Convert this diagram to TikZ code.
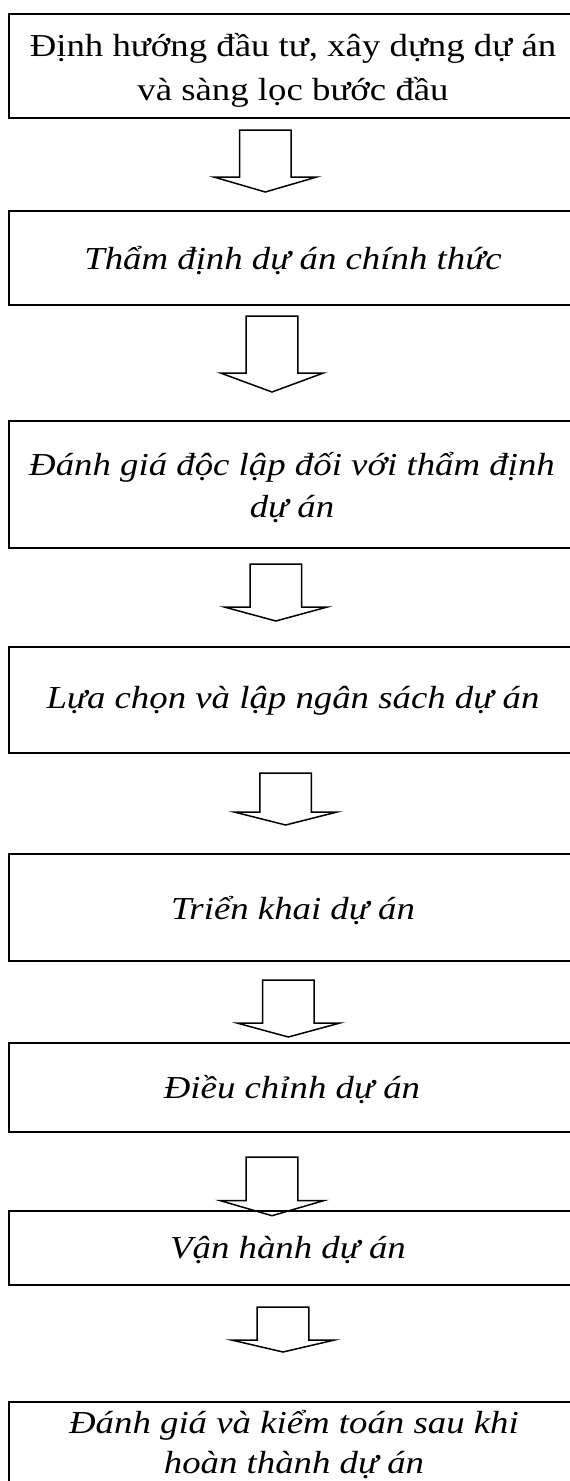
\documentclass[tikz,border=0pt]{standalone}
\usepackage{fontspec}
\setmainfont{Liberation Serif}[FakeStretch=1.15]
\begin{document}
\begin{tikzpicture}[x=1pt,y=-1pt,
  stage/.style={draw=black, line width=2.2pt, fill=none},
  stagetext/.style={anchor=base, align=center, inner sep=0pt,
    font=\fontsize{32}{44}\selectfont},
  stagetextit/.style={stagetext, font=\fontsize{32}{42}\selectfont\itshape},
  blockarrow/.style={draw=black, line width=1.5pt, line join=miter, fill=none}]
\useasboundingbox (0,0) rectangle (570,1481);
\clip (0,0) rectangle (570,1481);

% stage boxes (the right side runs just past the page edge)
\node[stage, rectangle, minimum width=570pt, minimum height=104pt, anchor=north west] (s1) at (8,13) {};
\node[stage, rectangle, minimum width=570pt, minimum height=94pt,  anchor=north west] (s2) at (8,210) {};
\node[stage, rectangle, minimum width=570pt, minimum height=127pt, anchor=north west] (s3) at (8,420) {};
\node[stage, rectangle, minimum width=570pt, minimum height=106pt, anchor=north west] (s4) at (8,646) {};
\node[stage, rectangle, minimum width=570pt, minimum height=107pt, anchor=north west] (s5) at (8,853) {};
\node[stage, rectangle, minimum width=570pt, minimum height=89pt,  anchor=north west] (s6) at (8,1042) {};
\node[stage, rectangle, minimum width=570pt, minimum height=74pt,  anchor=north west] (s7) at (8,1210) {};
\node[stage, rectangle, minimum width=570pt, minimum height=110pt, anchor=north west] (s8) at (8,1401) {};

% stage labels (a two-line label is placed by the baseline of its last line)
\node[stagetext]   (t1) at (293,100)  {Định hướng đầu tư, xây dựng dự án\\và sàng lọc bước đầu};
\node[stagetextit] (t2) at (293,269)  {Thẩm định dự án chính thức};
\node[stagetextit] (t3) at (292,517)  {Đánh giá độc lập đối với thẩm định\\dự án};
\node[stagetextit] (t4) at (293,708)  {Lựa chọn và lập ngân sách dự án};
\node[stagetextit] (t5) at (293,919)  {Triển khai dự án};
\node[stagetextit] (t6) at (292,1098) {Điều chỉnh dự án};
\node[stagetextit] (t7) at (288,1258) {Vận hành dự án};
\node[stagetextit, font=\fontsize{32}{40}\selectfont\itshape] (t8) at (294,1473) {Đánh giá và kiểm toán sau khi\\hoàn thành dự án};

% hollow block arrows between stages: centre x, top, neck, tip
\newcommand\flowarrow[4]{%
  \draw[blockarrow] (#1-25.8,#2) -- (#1+25.8,#2) -- (#1+25.8,#3) -- (#1+51.5,#3)
    -- (#1,#4) -- (#1-51.5,#3) -- (#1-25.8,#3) -- cycle;}
\flowarrow{265.3}{130}{177}{192}
\flowarrow{272}{316}{373}{392}
\flowarrow{275.8}{564}{607}{621}
\flowarrow{285.6}{773}{812}{825}
\flowarrow{288.4}{980}{1023}{1037}
\flowarrow{272}{1157}{1200.7}{1215.7}
\flowarrow{283}{1307}{1340}{1352}
\end{tikzpicture}
\end{document}
